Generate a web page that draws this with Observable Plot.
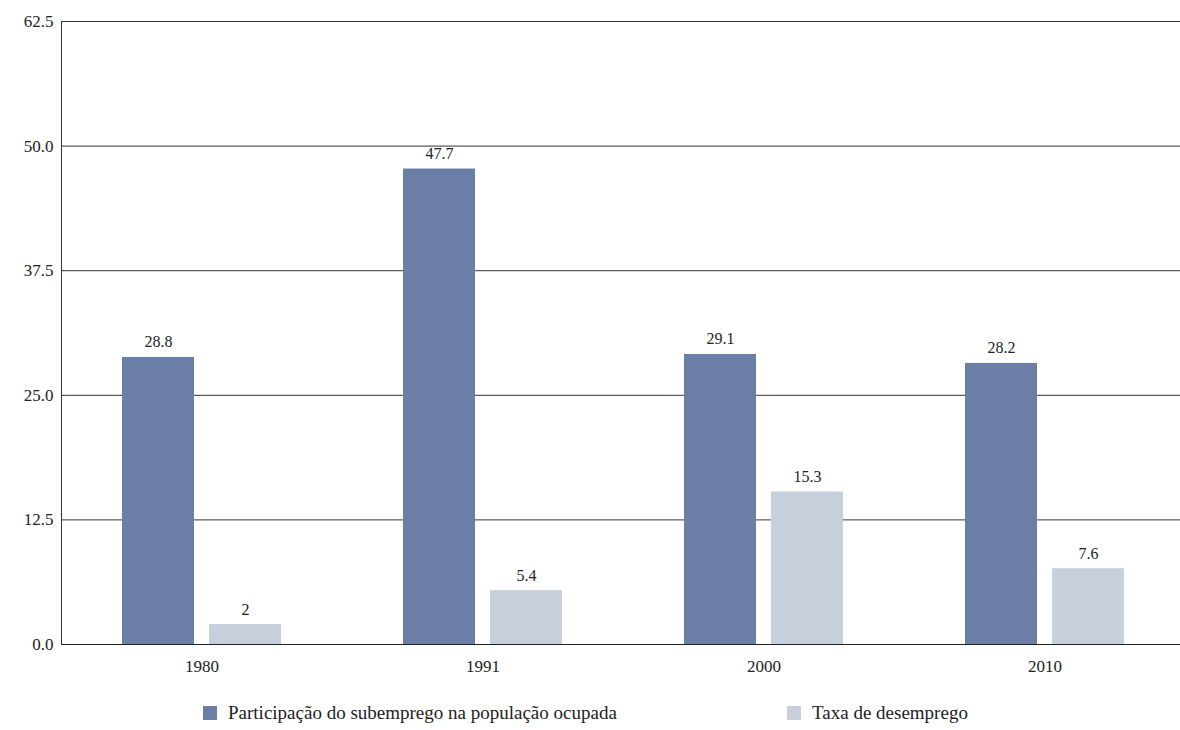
<!DOCTYPE html>
<html>
<head>
<meta charset="utf-8">
<script src="https://cdn.jsdelivr.net/npm/d3@7"></script>
<script src="https://cdn.jsdelivr.net/npm/@observablehq/plot@0.6"></script>
</head>
<body style="margin:0; background:#fff; font-family:'Liberation Serif', serif;">
<div id="chart"></div>
<div id="legend" style="position:relative; height:30px; color:#222; margin-top:12px;"></div>
<script>
const years = ["1980", "1991", "2000", "2010"];
const seriesNames = ["Participação do subemprego na população ocupada", "Taxa de desemprego"];
const subemprego = [28.8, 47.7, 29.1, 28.2];
const desemprego = [2, 5.4, 15.3, 7.6];
const colors = ["#6a7ea6", "#c7cedc"];
const yTicks = [0, 12.5, 25, 37.5, 50, 62.5];
const legendLeft = [203, 787];

const data = [];
years.forEach((yr, i) => {
  data.push({year: yr, series: seriesNames[0], value: subemprego[i]});
  data.push({year: yr, series: seriesNames[1], value: desemprego[i]});
});

const FONT = "'Liberation Serif', serif";

const chart = Plot.plot({
  width: 1180,
  height: 690,
  marginLeft: 60,
  marginRight: 0,
  marginTop: 21,
  marginBottom: 46,
  style: { fontFamily: FONT, fontSize: "17px", background: "#fff" },
  fx: { domain: years, padding: 0, range: [60, 1185], label: null, axis: null },
  x: { domain: seriesNames, axis: null, paddingInner: 0.1705, paddingOuter: 0.684 },
  y: { domain: [0, 62.5], axis: null },
  color: { domain: seriesNames, range: colors },
  marks: [
    Plot.ruleY(yTicks, { stroke: "#333", strokeWidth: 1 }),
    Plot.barY(data, { fx: "year", x: "series", y: "value", fill: "series" }),
    Plot.ruleY([0], { stroke: "#222", strokeWidth: 1.2 }),
    Plot.frame({ anchor: "left", facetAnchor: "left", stroke: "#333" }),
    Plot.axisY({ ticks: yTicks, tickFormat: d3.format(".1f"), tickSize: 0, tickPadding: 8, label: null, fontSize: 17, fontFamily: FONT, facetAnchor: "left", anchor: "left", fill: "#222" }),
    Plot.axisFx({ tickSize: 0, tickPadding: 15, label: null, fontSize: 17, fontFamily: FONT, anchor: "bottom", fill: "#222" }),
    Plot.text(data, { fx: "year", x: "series", y: "value", text: d => String(d.value), dy: -10, lineAnchor: "bottom", fontSize: 16, fontFamily: FONT, fill: "#222" })
  ]
});
document.getElementById("chart").appendChild(chart);

const legend = document.getElementById("legend");
seriesNames.forEach((s, i) => {
  const item = document.createElement("div");
  item.style.cssText = `position:absolute; left:${legendLeft[i]}px; top:0; display:flex; align-items:center; white-space:nowrap;`;
  const sw = document.createElement("span");
  sw.style.cssText = `width:14px; height:14px; margin-right:11px; display:inline-block; background:${colors[i]};`;
  const t = document.createElement("span");
  t.style.cssText = "font: 19px 'Liberation Serif', serif;";
  t.textContent = s;
  item.appendChild(sw);
  item.appendChild(t);
  legend.appendChild(item);
});
</script>
</body>
</html>
